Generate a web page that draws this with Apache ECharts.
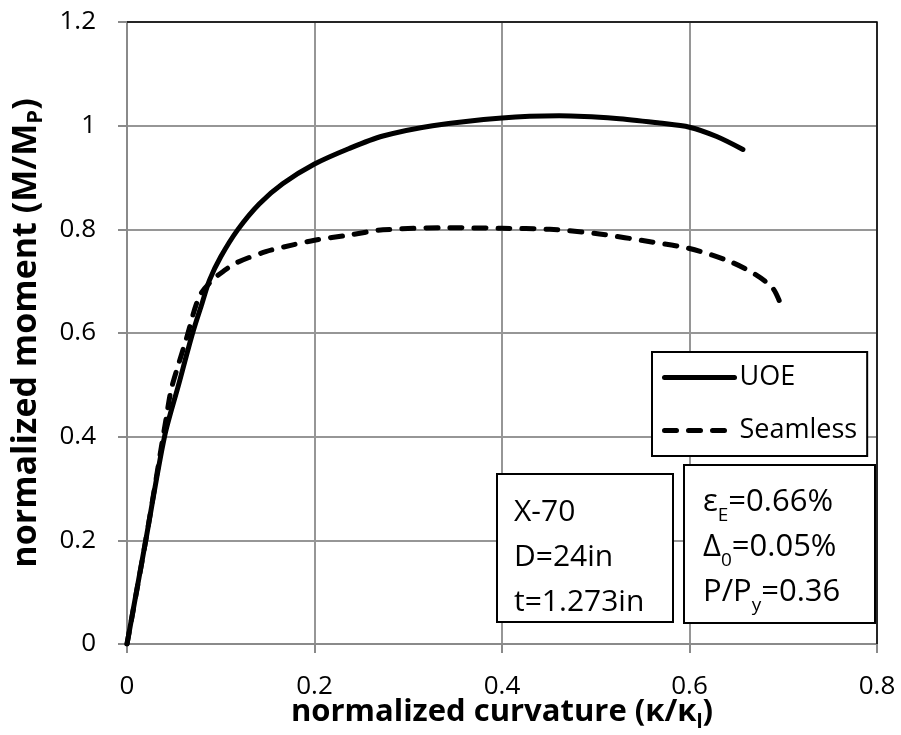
<!DOCTYPE html>
<html>
<head>
<meta charset="utf-8">
<script src="https://cdn.jsdelivr.net/npm/echarts@6/dist/echarts.min.js"></script>
<style>
  html, body { margin: 0; padding: 0; background: #fff; }
  #chart { width: 901px; height: 735px; }
</style>
</head>
<body>
<div id="chart"></div>
<script>
// Axis ticks
const xTicks = [0, 0.2, 0.4, 0.6, 0.8];
const yTicks = [0, 0.2, 0.4, 0.6, 0.8, 1.0, 1.2];

// UOE pipe: normalized curvature vs normalized moment
const uoeCurv = [0, 0.02, 0.04, 0.055, 0.07, 0.08, 0.088, 0.1, 0.118, 0.141, 0.166, 0.2, 0.237, 0.273, 0.326, 0.4, 0.461, 0.522, 0.568, 0.6, 0.629, 0.657];
const uoeMom  = [0, 0.2, 0.4, 0.5, 0.6, 0.657, 0.702, 0.747, 0.799, 0.849, 0.888, 0.926, 0.956, 0.980, 1.000, 1.015, 1.019, 1.014, 1.005, 0.997, 0.979, 0.954];

// Seamless pipe
const seamCurv = [0, 0.02, 0.042, 0.047, 0.055, 0.063, 0.077, 0.091, 0.105, 0.116, 0.148, 0.177, 0.2, 0.237, 0.273, 0.344, 0.4, 0.451, 0.504, 0.558, 0.6, 0.643, 0.671, 0.689, 0.698];
const seamMom  = [0, 0.2, 0.438, 0.49, 0.54, 0.587, 0.67, 0.702, 0.722, 0.735, 0.757, 0.77, 0.779, 0.789, 0.799, 0.803, 0.802, 0.8, 0.791, 0.776, 0.763, 0.738, 0.712, 0.686, 0.652];

const seriesNames = ['UOE', 'Seamless'];

const pair = (xs, ys) => xs.map((x, i) => [x, ys[i]]);

const FONT = 'Open Sans';
const gridColor = '#969696';
const axisColor = '#8a8a8a';
const LINE_W = 5;

const chart = echarts.init(document.getElementById('chart'), null, { renderer: 'canvas' });

const gridL = 127, gridT = 22, gridR = 877, gridB = 644;

chart.setOption({
  backgroundColor: '#fff',
  animation: false,
  grid: {
    left: gridL, top: gridT, right: 901 - gridR, bottom: 735 - gridB,
    containLabel: false, outerBoundsMode: 'none'
  },
  xAxis: {
    type: 'value',
    min: xTicks[0], max: xTicks[xTicks.length - 1], interval: 0.2,
    name: 'normalized curvature (κ/κ{s|l})',
    nameLocation: 'middle',
    nameGap: 48,
    nameMoveOverlap: false,
    nameTextStyle: {
      fontFamily: FONT, fontSize: 31, fontWeight: 'bold', color: '#000', lineHeight: 40,
      rich: { s: { fontFamily: FONT, fontSize: 20, fontWeight: 'bold', color: '#000', verticalAlign: 'bottom', lineHeight: 24 } }
    },
    axisLine: { show: true, lineStyle: { color: axisColor, width: 2 } },
    axisTick: { show: true, inside: false, length: 9, lineStyle: { color: axisColor, width: 2 } },
    axisLabel: { fontFamily: FONT, fontSize: 26, color: '#000', margin: 30 },
    splitLine: { show: true, lineStyle: { color: gridColor, width: 2 } }
  },
  yAxis: {
    type: 'value',
    min: yTicks[0], max: yTicks[yTicks.length - 1], interval: 0.2,
    name: 'normalized moment (M/M{s|P})',
    nameLocation: 'middle',
    nameGap: 80,
    nameRotate: 90,
    nameTextStyle: {
      fontFamily: FONT, fontSize: 34, fontWeight: 'bold', color: '#000', lineHeight: 42,
      rich: { s: { fontFamily: FONT, fontSize: 22, fontWeight: 'bold', color: '#000', verticalAlign: 'bottom', lineHeight: 25 } }
    },
    axisLine: { show: true, lineStyle: { color: axisColor, width: 2 } },
    axisTick: { show: true, inside: false, length: 9, lineStyle: { color: axisColor, width: 2 } },
    axisLabel: { fontFamily: FONT, fontSize: 26, color: '#000', margin: 31 },
    splitLine: { show: true, lineStyle: { color: gridColor, width: 2 } }
  },
  legend: {
    data: seriesNames,
    orient: 'vertical',
    left: 652, top: 352,
    itemWidth: 70, itemHeight: 1, itemGap: 26,
    padding: [12, 10, 12, 10],
    borderColor: '#000', borderWidth: 2, backgroundColor: '#fff',
    lineStyle: { width: LINE_W },
    textStyle: { fontFamily: FONT, fontSize: 27, color: '#000' }
  },
  series: [
    {
      name: seriesNames[0], type: 'line',
      data: pair(uoeCurv, uoeMom),
      showSymbol: false, symbol: 'none',
      smooth: 0.3,
      lineStyle: { color: '#000', width: LINE_W, cap: 'round', join: 'round' },
      itemStyle: { color: '#000' },
      z: 3
    },
    {
      name: seriesNames[1], type: 'line',
      data: pair(seamCurv, seamMom),
      showSymbol: false, symbol: 'none',
      smooth: 0.3,
      lineStyle: { color: '#000', width: LINE_W, type: [12, 12], cap: 'round', join: 'round' },
      itemStyle: { color: '#000' },
      z: 4
    }
  ],
  graphic: [
    // top and right frame of the plot area
    {
      type: 'polyline', z: 10, silent: true,
      shape: { points: [[gridL, gridT], [gridR, gridT], [gridR, gridB]] },
      style: { stroke: '#000', lineWidth: 1.5, fill: null }
    },
    // pipe geometry box
    {
      type: 'rect', z: 20,
      shape: { x: 497, y: 474, width: 176, height: 148 },
      style: { fill: '#fff', stroke: '#000', lineWidth: 2 }
    },
    {
      type: 'text', z: 21, left: 514, top: 490,
      style: {
        text: 'X-70\nD=24in\nt=1.273in',
        font: '30px "Open Sans"', fill: '#000', lineHeight: 45, align: 'left'
      }
    },
    // loading parameters box
    {
      type: 'rect', z: 20,
      shape: { x: 684, y: 465, width: 191, height: 158 },
      style: { fill: '#fff', stroke: '#000', lineWidth: 2 }
    },
    {
      type: 'text', z: 21, left: 703, top: 487,
      style: {
        text: '{t|ε}{s|E}{t|=0.66%}\n{t|Δ}{s|0}{t|=0.05%}\n{t|P/P}{s|y}{t|=0.36}',
        fill: '#000', align: 'left',
        rich: {
          t: { fontFamily: FONT, fontSize: 31, color: '#000', lineHeight: 45, align: 'left' },
          s: { fontFamily: FONT, fontSize: 19, color: '#000', lineHeight: 21, verticalAlign: 'bottom', align: 'left' }
        }
      }
    }
  ]
});
</script>
</body>
</html>
